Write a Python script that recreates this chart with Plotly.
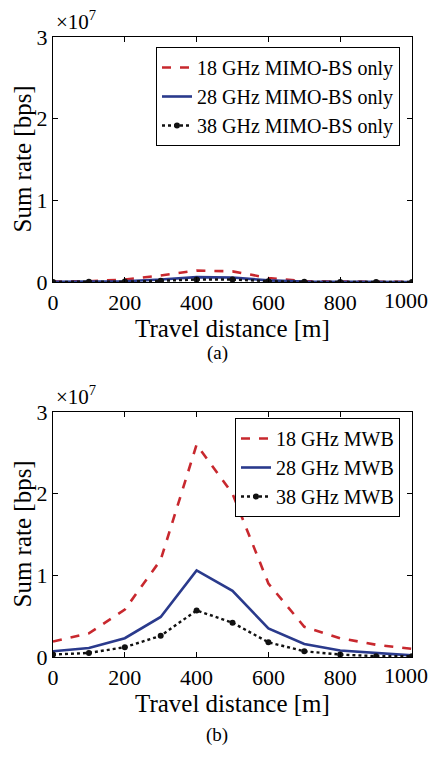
import plotly.graph_objects as go

distance = [0, 100, 200, 300, 400, 500, 600, 700, 800, 900, 1000]

# (a) MIMO-BS only, bps
a_18 = [0.05e6, 0.1e6, 0.3e6, 0.8e6, 1.4e6, 1.3e6, 0.5e6, 0.1e6, 0.05e6, 0.02e6, 0.01e6]
a_28 = [0.02e6, 0.05e6, 0.1e6, 0.3e6, 0.6e6, 0.55e6, 0.2e6, 0.05e6, 0.02e6, 0.01e6, 0.0]
a_38 = [0.01e6, 0.02e6, 0.05e6, 0.15e6, 0.3e6, 0.3e6, 0.1e6, 0.02e6, 0.01e6, 0.0, 0.0]

# (b) MWB, bps
b_18 = [1.9e6, 2.9e6, 5.8e6, 11.9e6, 26.0e6, 20.0e6, 9.0e6, 3.7e6, 2.3e6, 1.5e6, 1.0e6]
b_28 = [0.7e6, 1.1e6, 2.3e6, 4.9e6, 10.6e6, 8.1e6, 3.5e6, 1.6e6, 0.8e6, 0.5e6, 0.2e6]
b_38 = [0.3e6, 0.5e6, 1.2e6, 2.6e6, 5.7e6, 4.2e6, 1.8e6, 0.7e6, 0.3e6, 0.1e6, 0.1e6]

names_a = ["18 GHz MIMO-BS only", "28 GHz MIMO-BS only", "38 GHz MIMO-BS only"]
names_b = ["18 GHz MWB", "28 GHz MWB", "38 GHz MWB"]
ytick_vals = [0, 1e7, 2e7, 3e7]
ytick_text = ["0", "1", "2", "3"]
xtick_vals = [0, 200, 400, 600, 800, 1000]
xtick_text = ["0", "200", "400", "600", "800", "1000"]

RED = "#c8282e"
BLUE = "#2a3a8c"
BLACK = "#111111"
FONT = "Liberation Serif"

OFF = 8  # page body margin
W, H = 437 - OFF, 758 - 2 * OFF
fig = go.Figure()

def add_series(ys, names, xa, ya, legend):
    styles = [
        dict(color=RED, width=2.6, dash="dash"),
        dict(color=BLUE, width=2.6, dash="solid"),
        dict(color=BLACK, width=2.4, dash="dot"),
    ]
    for i, (y, n) in enumerate(zip(ys, names)):
        tr = go.Scatter(
            x=distance, y=y, name=n, xaxis=xa, yaxis=ya, legend=legend,
            mode="lines+markers" if i == 2 else "lines",
            line=styles[i],
        )
        if i == 2:
            tr.marker = dict(color=BLACK, size=6, symbol="circle")
        fig.add_trace(tr)

add_series([a_18, a_28, a_38], names_a, "x", "y", "legend")
add_series([b_18, b_28, b_38], names_b, "x2", "y2", "legend2")

def px_x(p):
    return (p - OFF) / W

def px_y(p):
    return 1 - (p - OFF) / H

TICK_SIZE = 22
axis_common = dict(
    showline=True, linecolor="black", linewidth=1.2, mirror="ticks",
    ticks="inside", ticklen=5, tickcolor="black", showgrid=False, zeroline=False,
    automargin=False,
    tickfont=dict(family=FONT, size=TICK_SIZE, color="black"),
)

# last x tick label is drawn as an annotation (shifted left so it stays on the page)
xtick_text_axis = xtick_text[:-1] + [""]

dom_x = [px_x(53), px_x(412)]
legend_common = dict(xanchor="right", yanchor="top",
                     bordercolor="black", borderwidth=1, bgcolor="white",
                     font=dict(family=FONT, size=20, color="black"),
                     itemwidth=30, tracegroupgap=0)
fig.update_layout(
    width=W, height=H,
    margin=dict(l=0, r=0, t=0, b=0),
    paper_bgcolor="white", plot_bgcolor="white",
    font=dict(family=FONT, color="black"),
    xaxis=dict(domain=dom_x, anchor="y", range=[0, 1000], tickvals=xtick_vals,
               ticktext=xtick_text_axis, **axis_common),
    yaxis=dict(domain=[px_y(282), px_y(37)], anchor="x", range=[0, 3e7],
               tickvals=ytick_vals, ticktext=ytick_text, **axis_common),
    xaxis2=dict(domain=dom_x, anchor="y2", range=[0, 1000], tickvals=xtick_vals,
                ticktext=xtick_text_axis, **axis_common),
    yaxis2=dict(domain=[px_y(657), px_y(412)], anchor="x2", range=[0, 3e7],
                tickvals=ytick_vals, ticktext=ytick_text, **axis_common),
    legend=dict(x=px_x(400), y=px_y(47), **legend_common),
    legend2=dict(x=px_x(400), y=px_y(418), **legend_common),
    showlegend=True,
)

annots = []
for xref, top, bottom, cap, cap_y in [("x", 37, 282, "(a)", 353), ("x2", 412, 657, "(b)", 735)]:
    annots.append(dict(text=xtick_text[-1], x=xtick_vals[-1], xref=xref, y=px_y(bottom + 4), yref="paper",
                       xanchor="center", yanchor="top", xshift=-6, showarrow=False,
                       font=dict(family=FONT, size=TICK_SIZE, color="black")))
    annots.append(dict(text="×10<sup>7</sup>", x=px_x(54), y=px_y(top - 1), xref="paper", yref="paper",
                       xanchor="left", yanchor="bottom", showarrow=False,
                       font=dict(family=FONT, size=21, color="black")))
    annots.append(dict(text="Sum rate [bps]", x=px_x(22), y=px_y((top + bottom) / 2), xref="paper", yref="paper",
                       xanchor="center", yanchor="middle", textangle=-90, showarrow=False,
                       font=dict(family=FONT, size=25, color="black")))
    annots.append(dict(text="Travel distance [m]", x=px_x(232), y=px_y(bottom + 46), xref="paper", yref="paper",
                       xanchor="center", yanchor="middle", showarrow=False,
                       font=dict(family=FONT, size=25, color="black")))
    annots.append(dict(text=cap, x=px_x(217), y=px_y(cap_y), xref="paper", yref="paper",
                       xanchor="center", yanchor="middle", showarrow=False,
                       font=dict(family=FONT, size=19, color="black")))
fig.update_layout(annotations=annots)

fig.write_html("out.html")
